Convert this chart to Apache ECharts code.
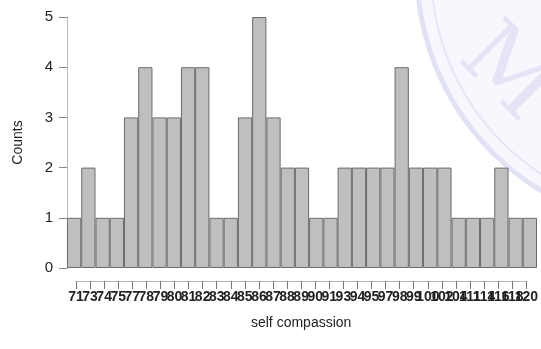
<!DOCTYPE html>
<html>
<head>
<meta charset="utf-8">
<script src="https://cdn.jsdelivr.net/npm/echarts@6/dist/echarts.min.js"></script>
<style>
  html, body { margin: 0; padding: 0; background: #fff; }
  #chart { width: 541px; height: 349px; }
</style>
</head>
<body>
<div id="chart"></div>
<script>
// self compassion scores and how often each occurs
var scores = ["71", "73", "74", "75", "77", "78", "79", "80", "81", "82", "83",
  "84", "85", "86", "87", "88", "89", "90", "91", "93", "94", "95",
  "97", "98", "99", "100", "102", "104", "111", "114", "116", "118", "120"];
var counts = [1, 2, 1, 1, 3, 4, 3, 3, 4, 4, 1,
  1, 3, 5, 3, 2, 2, 1, 1, 2, 2, 2,
  2, 4, 2, 2, 2, 1, 1, 1, 2, 1, 1];
var countTicks = [0, 5, 1]; // min, max, step

(function () {
  var chart = echarts.init(document.getElementById("chart"), null, { renderer: "canvas" });
  var font = "Liberation Sans, Arial, sans-serif";

  chart.setOption({
    animation: false,
    backgroundColor: "#fff",
    // faint seal watermark behind the plot
    graphic: [
      { type: "circle", silent: true, z: -10, shape: { cx: 675, cy: -30, r: 258 },
        style: { fill: "#f7f7fd", stroke: "#e2e2f5", lineWidth: 5 } },
      { type: "circle", silent: true, z: -10, shape: { cx: 675, cy: -30, r: 244 },
        style: { fill: null, stroke: "#e6e6f7", lineWidth: 2 } },
      { type: "text", silent: true, z: -9, x: 505, y: 75, rotation: -Math.PI / 4,
        style: { text: "M", fill: "#e4e4f6", font: "90px DejaVu Serif", align: "center", verticalAlign: "middle" } }
    ],
    grid: [
      { left: 67, right: 4, top: 17, bottom: 81 },
      { left: 76, right: 12, top: 280, height: 1 }
    ],
    xAxis: [
      { type: "category", gridIndex: 0, data: scores, show: false },
      {
        type: "category", gridIndex: 1, data: scores, boundaryGap: false, position: "top",
        name: "self compassion", nameLocation: "middle", nameGap: -50,
        nameTextStyle: { fontFamily: font, fontSize: 14, color: "#222" },
        axisLine: { show: true, lineStyle: { color: "#bbb", width: 1 } },
        axisTick: { show: true, inside: true, length: 8, interval: 0, lineStyle: { color: "#777" } },
        axisLabel: { show: true, inside: true, interval: 0, margin: 10, hideOverlap: false,
          fontFamily: font, fontSize: 14, fontWeight: "bold", color: "#222", verticalAlign: "top" },
        splitLine: { show: false }
      }
    ],
    yAxis: [
      {
        type: "value", gridIndex: 0, min: countTicks[0], max: countTicks[1], interval: countTicks[2],
        name: "Counts", nameLocation: "middle", nameGap: 42, nameRotate: 90,
        nameTextStyle: { fontFamily: font, fontSize: 14, color: "#222" },
        axisLine: { show: true, lineStyle: { color: "#bbb", width: 1 } },
        axisTick: { show: true, length: 8, lineStyle: { color: "#888" } },
        axisLabel: { fontFamily: font, fontSize: 15, color: "#222", margin: 14 },
        splitLine: { show: false }
      },
      { type: "value", gridIndex: 1, show: false }
    ],
    series: [
      {
        type: "bar", xAxisIndex: 0, yAxisIndex: 0, data: counts,
        barCategoryGap: "0%",
        itemStyle: { color: "#bfbfbf", borderColor: "#6b6b6b", borderWidth: 1 }
      }
    ]
  });

  window.addEventListener("resize", function () { chart.resize(); });
})();
</script>
</body>
</html>
